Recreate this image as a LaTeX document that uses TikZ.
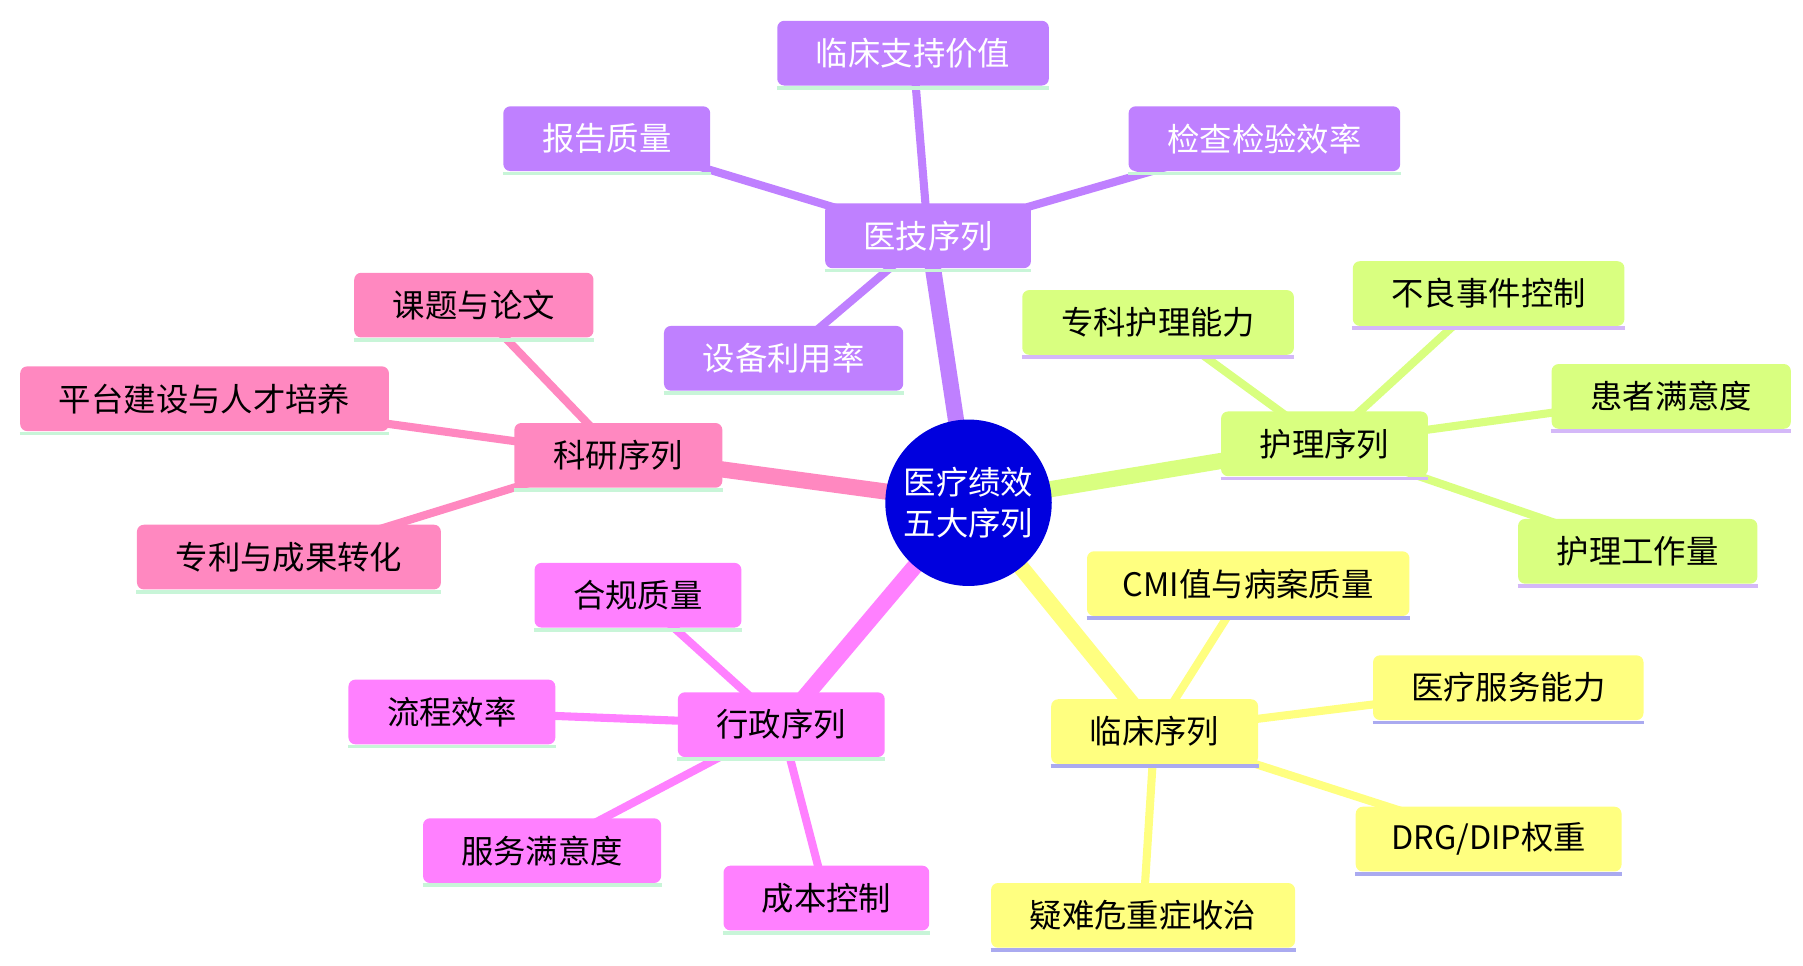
\documentclass[tikz,border=0pt]{standalone}
\usepackage{fontspec}
\setmainfont{Noto Sans CJK SC}
\usetikzlibrary{backgrounds}
\definecolor{cpur}{HTML}{BF80FF}
\definecolor{cgrn}{HTML}{D9FF80}
\definecolor{cyel}{HTML}{FFFF80}
\definecolor{cmag}{HTML}{FF80FF}
\definecolor{cpnk}{HTML}{FF88C0}
\definecolor{umint}{HTML}{C8F5D8}
\definecolor{ulil}{HTML}{D4B8F8}
\definecolor{ublu}{HTML}{AAAAF0}
\tikzset{box/.style={rounded corners=3pt,minimum height=28pt,inner sep=0pt,font=\fontsize{14}{16}\selectfont},
 ul/.style={line width=1.6pt},
 mainedge/.style={line width=7pt},
 subedge/.style={line width=3.5pt}}
\newcommand{\bx}[7]{\node[box,fill=#5,text=#6,minimum width=#4*0.5pt] (#1) at (#2,#3) {#7};
 \draw[ul,draw=#6] ([yshift=-0.8pt]#1.south west) -- ([yshift=-0.8pt]#1.south east);}
\begin{document}
\begin{tikzpicture}[x=0.5pt,y=-0.5pt]
\useasboundingbox (0,0) rectangle (1560,835);
\node[circle,fill=blue!87!black,minimum size=72pt,inner sep=0pt,align=center,text=white,font=\fontsize{14}{18}\selectfont] (c) at (838,435) {医疗绩效\\五大序列};
% purple
\node[box,fill=cpur,text=white,minimum width=89pt] (yj) at (803,204) {医技序列};
\node[box,fill=cpur,text=white,minimum width=117.5pt] (yj1) at (790,46) {临床支持价值};
\node[box,fill=cpur,text=white,minimum width=89.5pt] (yj2) at (525,120) {报告质量};
\node[box,fill=cpur,text=white,minimum width=117.5pt] (yj3) at (1094,120) {检查检验效率};
\node[box,fill=cpur,text=white,minimum width=103.5pt] (yj4) at (678,310) {设备利用率};
\foreach \n in {yj,yj1,yj2,yj3,yj4}{\draw[ul,draw=umint] ([yshift=-0.8pt]\n.south west) -- ([yshift=-0.8pt]\n.south east);}
% green
\node[box,fill=cgrn,minimum width=89.5pt] (hl) at (1146,384) {护理序列};
\node[box,fill=cgrn,minimum width=117.5pt] (hl1) at (1002,279) {专科护理能力};
\node[box,fill=cgrn,minimum width=117.5pt] (hl2) at (1288,254) {不良事件控制};
\node[box,fill=cgrn,minimum width=103.5pt] (hl3) at (1446,343) {患者满意度};
\node[box,fill=cgrn,minimum width=103.5pt] (hl4) at (1417,477) {护理工作量};
\foreach \n in {hl,hl1,hl2,hl3,hl4}{\draw[ul,draw=ulil] ([yshift=-0.8pt]\n.south west) -- ([yshift=-0.8pt]\n.south east);}
% yellow
\node[box,fill=cyel,minimum width=89.5pt] (lc) at (999,633) {临床序列};
\node[box,fill=cyel,minimum width=139.5pt] (lc1) at (1080,505) {CMI值与病案质量};
\node[box,fill=cyel,minimum width=117pt] (lc2) at (1305,595) {医疗服务能力};
\node[box,fill=cyel,minimum width=115pt] (lc3) at (1288,726) {DRG/DIP权重};
\node[box,fill=cyel,minimum width=131.5pt] (lc4) at (989,792) {疑难危重症收治};
\foreach \n in {lc,lc1,lc2,lc3,lc4}{\draw[ul,draw=ublu] ([yshift=-0.8pt]\n.south west) -- ([yshift=-0.8pt]\n.south east);}
% magenta
\node[box,fill=cmag,minimum width=89.5pt] (xz) at (676,627) {行政序列};
\node[box,fill=cmag,minimum width=89.5pt] (xz1) at (552,515) {合规质量};
\node[box,fill=cmag,minimum width=89.5pt] (xz2) at (391,616) {流程效率};
\node[box,fill=cmag,minimum width=103pt] (xz3) at (469,736) {服务满意度};
\node[box,fill=cmag,minimum width=89pt] (xz4) at (715,777) {成本控制};
\foreach \n in {xz,xz1,xz2,xz3,xz4}{\draw[ul,draw=umint] ([yshift=-0.8pt]\n.south west) -- ([yshift=-0.8pt]\n.south east);}
% pink
\node[box,fill=cpnk,minimum width=90pt] (ky) at (535,394) {科研序列};
\node[box,fill=cpnk,minimum width=103.5pt] (ky1) at (410,264) {课题与论文};
\node[box,fill=cpnk,minimum width=159.5pt] (ky2) at (177,345) {平台建设与人才培养};
\node[box,fill=cpnk,minimum width=131.5pt] (ky3) at (250,482) {专利与成果转化};
\foreach \n in {ky,ky1,ky2,ky3}{\draw[ul,draw=umint] ([yshift=-0.8pt]\n.south west) -- ([yshift=-0.8pt]\n.south east);}
\begin{scope}[on background layer]
\draw[mainedge,cpur] (c.center) -- (yj.center);
\draw[mainedge,cgrn] (c.center) -- (hl.center);
\draw[mainedge,cyel] (c.center) -- (lc.center);
\draw[mainedge,cmag] (c.center) -- (xz.center);
\draw[mainedge,cpnk] (c.center) -- (ky.center);
\foreach \n in {yj1,yj2,yj3,yj4}{\draw[subedge,cpur] (yj.center) -- (\n.center);}
\foreach \n in {hl1,hl2,hl3,hl4}{\draw[subedge,cgrn] (hl.center) -- (\n.center);}
\foreach \n in {lc1,lc2,lc3,lc4}{\draw[subedge,cyel] (lc.center) -- (\n.center);}
\foreach \n in {xz1,xz2,xz3,xz4}{\draw[subedge,cmag] (xz.center) -- (\n.center);}
\foreach \n in {ky1,ky2,ky3}{\draw[subedge,cpnk] (ky.center) -- (\n.center);}
\end{scope}
\end{tikzpicture}
\end{document}
